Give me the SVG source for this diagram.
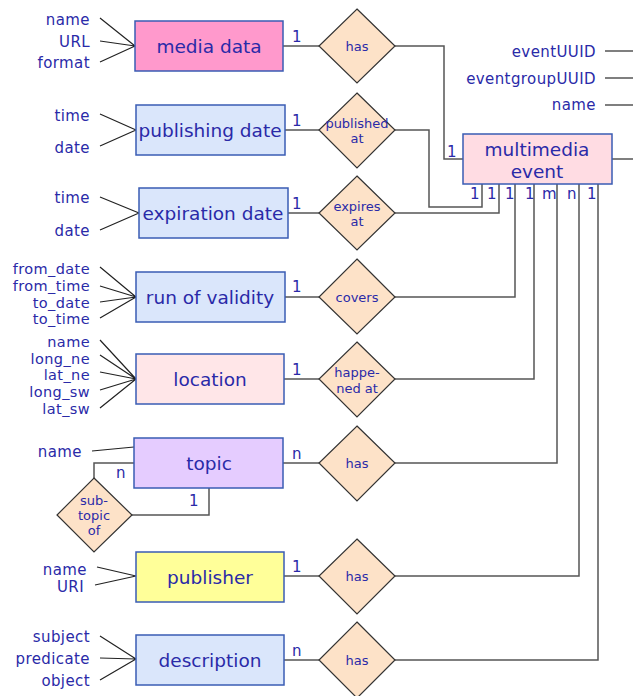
<svg xmlns="http://www.w3.org/2000/svg" width="633" height="696" viewBox="0 0 633 696">
  <style>
    text { font-family: "DejaVu Sans", Verdana, sans-serif; fill: #2a2aa8; }
    .attr { font-size: 15px; letter-spacing: 0.4px; text-anchor: end; }
    .dense { font-size: 14.5px; }
    .ent { font-size: 18.5px; text-anchor: middle; }
    .rel { font-size: 13px; text-anchor: middle; }
    .card { font-size: 15px; }
    .box { stroke: #3a5cb4; stroke-width: 1.5; }
    .dia { fill: #fde2c8; stroke: #333; stroke-width: 1.2; }
    .wire { fill: none; stroke: #555; stroke-width: 1.5; }
    .att { fill: none; stroke: #222; stroke-width: 1.2; }
  </style>

  <!-- connectors -->
  <g id="connectors">
    <!-- attribute lines -->
    <path class="att" d="M100,18 L135,46 M100,41 L135,46 M100,62 L135,46"/>
    <path class="att" d="M100,114 L136,130 M100,146 L136,130"/>
    <path class="att" d="M100,197 L139,213 M100,230 L139,213"/>
    <path class="att" d="M100,267 L136,297 M100,286 L136,297 M100,302 L136,297 M100,318 L136,297"/>
    <path class="att" d="M100,340 L136,379 M100,355 L136,379 M100,372 L136,379 M100,390 L136,379 M100,408 L136,379"/>
    <path class="att" d="M92,451 L134,447"/>
    <path class="att" d="M97,567 L136,576 M95,585 L136,576"/>
    <path class="att" d="M100,636 L136,659 M100,658 L136,659 M100,680 L136,659"/>
    <path class="wire" d="M605,51 H633 M605,78 H633 M605,105 H633 M612,159 H633"/>
    <!-- entity to relationship -->
    <path class="wire" d="M283,46 H319 M285,130 H319 M288,213 H319 M285,297 H319 M284,379 H319 M283,463 H319 M284,576 H319 M284,660 H319"/>
    <!-- relationship to multimedia event -->
    <path class="wire" d="M395,46 H444 V159 H463"/>
    <path class="wire" d="M395,130 H429 V207 H482 V184"/>
    <path class="wire" d="M395,213 H499 V184"/>
    <path class="wire" d="M395,297 H515 V184"/>
    <path class="wire" d="M395,379 H534 V184"/>
    <path class="wire" d="M395,463 H557 V184"/>
    <path class="wire" d="M395,576 H579 V184"/>
    <path class="wire" d="M395,660 H598 V184"/>
    <!-- topic self relation -->
    <path class="wire" d="M134,463 H94 V478"/>
    <path class="wire" d="M132,515 H209 V488"/>
  </g>

  <!-- attribute labels -->
  <g id="attributes">
    <text class="attr" x="90" y="25">name</text>
    <text class="attr" x="90" y="47">URL</text>
    <text class="attr" x="90" y="68">format</text>
    <text class="attr" x="90" y="121">time</text>
    <text class="attr" x="90" y="153">date</text>
    <text class="attr" x="90" y="203">time</text>
    <text class="attr" x="90" y="236">date</text>
    <text class="attr dense" x="90" y="274">from_date</text>
    <text class="attr dense" x="90" y="290.5">from_time</text>
    <text class="attr dense" x="90" y="307.5">to_date</text>
    <text class="attr dense" x="90" y="324">to_time</text>
    <text class="attr dense" x="90" y="347">name</text>
    <text class="attr dense" x="90" y="363.5">long_ne</text>
    <text class="attr dense" x="90" y="380">lat_ne</text>
    <text class="attr dense" x="90" y="397">long_sw</text>
    <text class="attr dense" x="90" y="413.5">lat_sw</text>
    <text class="attr" x="82" y="457">name</text>
    <text class="attr" x="87" y="575">name</text>
    <text class="attr" x="84" y="592">URI</text>
    <text class="attr" x="90" y="642">subject</text>
    <text class="attr" x="90" y="664">predicate</text>
    <text class="attr" x="90" y="686">object</text>
    <text class="attr" x="596" y="57">eventUUID</text>
    <text class="attr" x="596" y="84">eventgroupUUID</text>
    <text class="attr" x="596" y="110">name</text>
  </g>

  <!-- entities -->
  <g id="media-data">
    <rect class="box" x="135" y="21" width="148" height="50" fill="#ff99cc"/>
    <text class="ent" x="209" y="53">media data</text>
  </g>
  <g id="publishing-date">
    <rect class="box" x="136" y="105" width="149" height="50" fill="#dae6fb"/>
    <text class="ent" x="210" y="137">publishing date</text>
  </g>
  <g id="expiration-date">
    <rect class="box" x="139" y="188" width="149" height="50" fill="#dae6fb"/>
    <text class="ent" x="213" y="220">expiration date</text>
  </g>
  <g id="run-of-validity">
    <rect class="box" x="136" y="272" width="149" height="50" fill="#dae6fb"/>
    <text class="ent" x="210" y="304">run of validity</text>
  </g>
  <g id="location">
    <rect class="box" x="136" y="354" width="148" height="50" fill="#ffe6e8"/>
    <text class="ent" x="210" y="386">location</text>
  </g>
  <g id="topic">
    <rect class="box" x="134" y="438" width="149" height="50" fill="#e5ccff"/>
    <text class="ent" x="209" y="470">topic</text>
  </g>
  <g id="publisher">
    <rect class="box" x="136" y="552" width="148" height="50" fill="#ffff99"/>
    <text class="ent" x="210" y="584">publisher</text>
  </g>
  <g id="description">
    <rect class="box" x="136" y="635" width="148" height="50" fill="#dae6fb"/>
    <text class="ent" x="210" y="667">description</text>
  </g>
  <g id="multimedia-event">
    <rect class="box" x="463" y="134" width="149" height="50" fill="#ffdce3"/>
    <text class="ent" x="537" y="156">multimedia</text>
    <text class="ent" x="537" y="178">event</text>
  </g>

  <!-- relationships -->
  <g id="rel-has-media">
    <polygon class="dia" points="357,9 395,46 357,83 319,46"/>
    <text class="rel" x="357" y="51">has</text>
  </g>
  <g id="rel-published-at">
    <polygon class="dia" points="357,93 395,130 357,168 319,130"/>
    <text class="rel" x="357" y="128">published</text>
    <text class="rel" x="357" y="143">at</text>
  </g>
  <g id="rel-expires-at">
    <polygon class="dia" points="357,176 395,213 357,250 319,213"/>
    <text class="rel" x="357" y="211">expires</text>
    <text class="rel" x="357" y="226">at</text>
  </g>
  <g id="rel-covers">
    <polygon class="dia" points="357,259 395,297 357,334 319,297"/>
    <text class="rel" x="357" y="302">covers</text>
  </g>
  <g id="rel-happened-at">
    <polygon class="dia" points="357,342 395,379 357,417 319,379"/>
    <text class="rel" x="357" y="377">happe-</text>
    <text class="rel" x="357" y="393">ned at</text>
  </g>
  <g id="rel-has-topic">
    <polygon class="dia" points="357,426 395,463 357,501 319,463"/>
    <text class="rel" x="357" y="468">has</text>
  </g>
  <g id="rel-has-publisher">
    <polygon class="dia" points="357,539 395,576 357,614 319,576"/>
    <text class="rel" x="357" y="581">has</text>
  </g>
  <g id="rel-has-description">
    <polygon class="dia" points="357,622 395,660 357,698 319,660"/>
    <text class="rel" x="357" y="665">has</text>
  </g>
  <g id="rel-subtopic-of">
    <polygon class="dia" points="94,478 132,515 94,552 57,515"/>
    <text class="rel" x="94" y="505">sub-</text>
    <text class="rel" x="94" y="520">topic</text>
    <text class="rel" x="94" y="535">of</text>
  </g>

  <!-- cardinalities -->
  <g id="cardinalities">
    <text class="card" x="292" y="42">1</text>
    <text class="card" x="292" y="126">1</text>
    <text class="card" x="292" y="209">1</text>
    <text class="card" x="292" y="292">1</text>
    <text class="card" x="292" y="375">1</text>
    <text class="card" x="292" y="459">n</text>
    <text class="card" x="292" y="572">1</text>
    <text class="card" x="292" y="656">n</text>
    <text class="card" x="447" y="157">1</text>
    <text class="card" x="470" y="199">1</text>
    <text class="card" x="487" y="199">1</text>
    <text class="card" x="505" y="199">1</text>
    <text class="card" x="525" y="199">1</text>
    <text class="card" x="542" y="199">m</text>
    <text class="card" x="567" y="199">n</text>
    <text class="card" x="587" y="199">1</text>
    <text class="card" x="116" y="478">n</text>
    <text class="card" x="189" y="506">1</text>
  </g>
</svg>
